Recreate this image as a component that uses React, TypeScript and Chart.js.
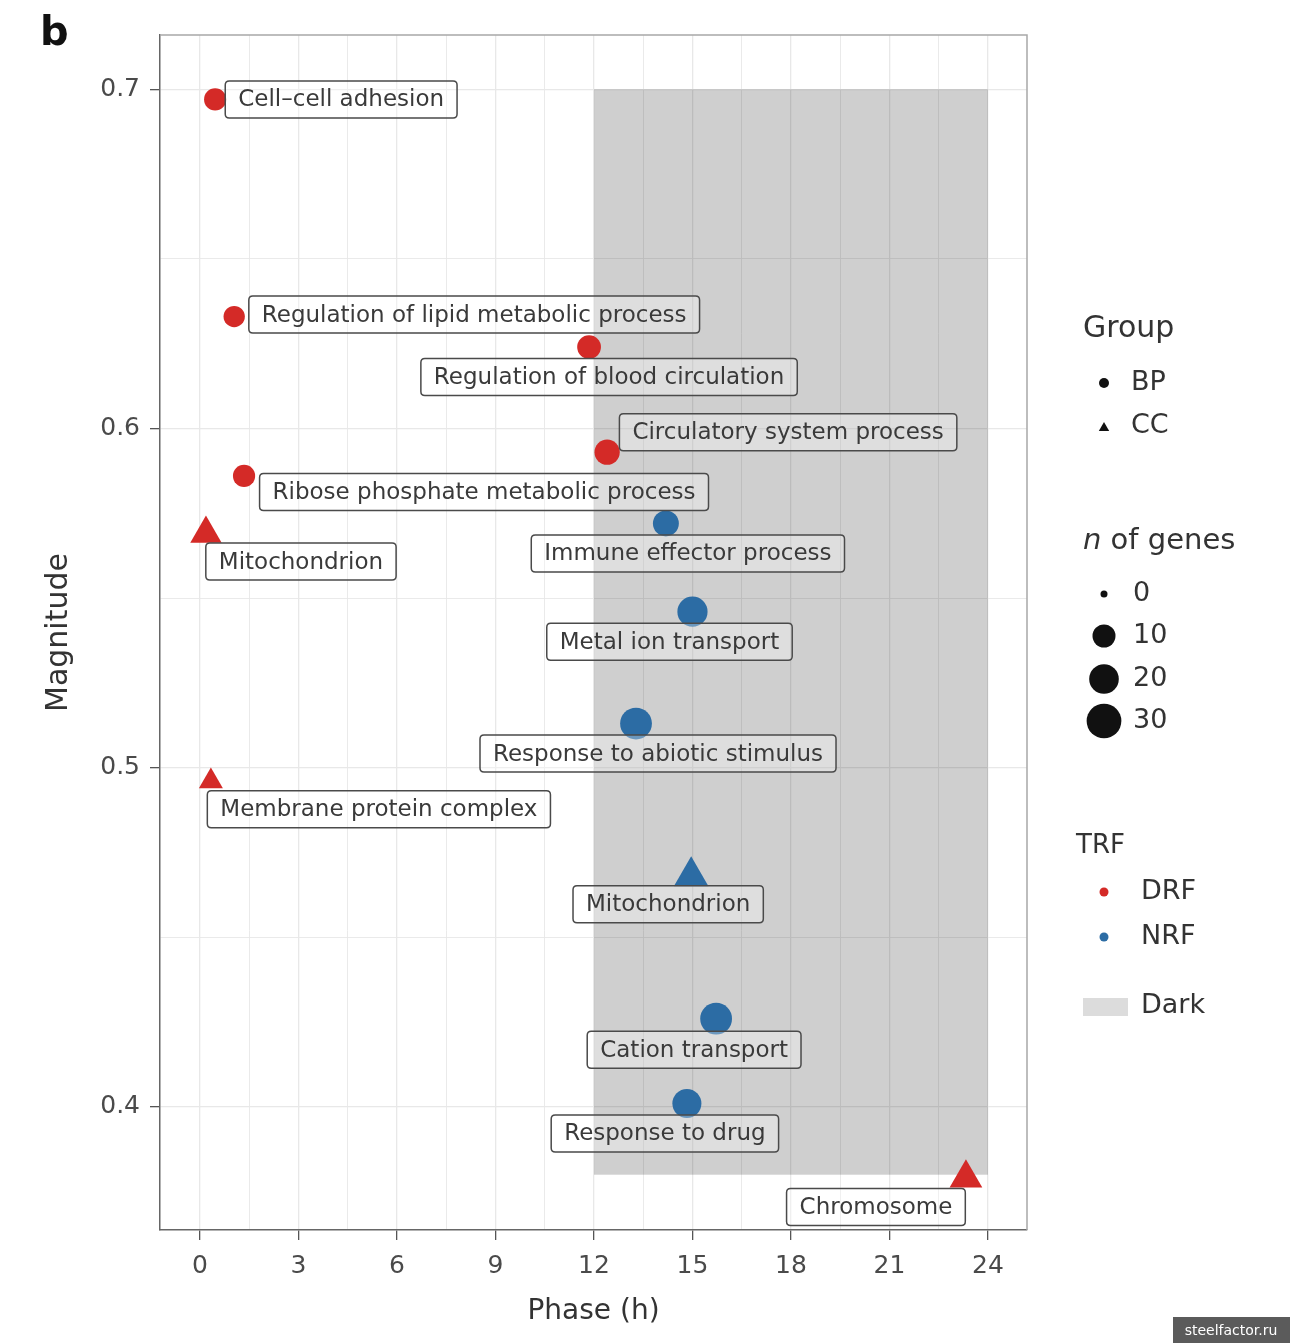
import React, { useEffect, useRef } from 'react';
import { Chart, registerables } from 'chart.js';

Chart.register(...registerables);

// ---------- data ----------
const terms = [
  'Cell–cell adhesion',
  'Regulation of lipid metabolic process',
  'Regulation of blood circulation',
  'Circulatory system process',
  'Ribose phosphate metabolic process',
  'Mitochondrion',
  'Membrane protein complex',
  'Chromosome',
  'Immune effector process',
  'Metal ion transport',
  'Response to abiotic stimulus',
  'Mitochondrion',
  'Cation transport',
  'Response to drug',
];
const phase = [0.46, 1.04, 11.85, 12.4, 1.34, 0.18, 0.33, 23.33, 14.19, 15.0, 13.28, 14.96, 15.72, 14.83];
const magnitude = [0.697, 0.633, 0.624, 0.593, 0.586, 0.569, 0.496, 0.379, 0.572, 0.546, 0.513, 0.468, 0.426, 0.401];
const nGenes = [9, 8, 11, 13, 9, 17, 8, 19, 14, 21, 24, 22, 24, 19];
const group = ['BP', 'BP', 'BP', 'BP', 'BP', 'CC', 'CC', 'CC', 'BP', 'BP', 'BP', 'CC', 'BP', 'BP'];
const trf = ['DRF', 'DRF', 'DRF', 'DRF', 'DRF', 'DRF', 'DRF', 'DRF', 'NRF', 'NRF', 'NRF', 'NRF', 'NRF', 'NRF'];

const xTicks = [0, 1.5, 3, 4.5, 6, 7.5, 9, 10.5, 12, 13.5, 15, 16.5, 18, 19.5, 21, 22.5, 24];
const yTicks = [0.4, 0.45, 0.5, 0.55, 0.6, 0.65, 0.7];
const darkPhase = [12, 24];
const darkMagnitude = [0.38, 0.7];
const sizeLegend = [0, 10, 20, 30];

// label box centre offsets (px) relative to each point
const labelDx = [126, 240, 20, 181, 240, 95, 168, -90, 22, -23, 22, -23, -22, -22];
const labelDy = [0, -2, 30, -20, 16, 28, 28, 29, 30, 30, 30, 28, 31, 30];

const COLORS: Record<string, string> = { DRF: '#d42a27', NRF: '#2c6ca4' };
const FONT = '"DejaVu Sans"';

const radiusFor = (n: number, g: string) => {
  const r = 3.5 + 2.53 * Math.sqrt(n);
  return g === 'CC' ? r * 1.3 : r;
};

const isMajorX = (v: number) => Math.abs(v % 3) < 1e-6;
const isMajorY = (v: number) => Math.abs(v * 10 - Math.round(v * 10)) < 1e-6;

function buildDatasets() {
  const combos = [
    ['DRF', 'BP'],
    ['DRF', 'CC'],
    ['NRF', 'BP'],
    ['NRF', 'CC'],
  ];
  return combos.map(([t, g]) => {
    const idx = terms.map((_, i) => i).filter((i) => trf[i] === t && group[i] === g);
    return {
      label: `${t}-${g}`,
      idx,
      data: idx.map((i) => ({ x: phase[i], y: magnitude[i] })),
      pointStyle: g === 'BP' ? 'circle' : 'triangle',
      pointRadius: idx.map((i) => radiusFor(nGenes[i], g)),
      pointHoverRadius: idx.map((i) => radiusFor(nGenes[i], g)),
      backgroundColor: COLORS[t],
      borderColor: COLORS[t],
      borderWidth: 0,
      showLine: false,
    } as any;
  });
}

function roundRect(ctx: CanvasRenderingContext2D, x: number, y: number, w: number, h: number, r: number) {
  ctx.beginPath();
  ctx.moveTo(x + r, y);
  ctx.lineTo(x + w - r, y);
  ctx.quadraticCurveTo(x + w, y, x + w, y + r);
  ctx.lineTo(x + w, y + h - r);
  ctx.quadraticCurveTo(x + w, y + h, x + w - r, y + h);
  ctx.lineTo(x + r, y + h);
  ctx.quadraticCurveTo(x, y + h, x, y + h - r);
  ctx.lineTo(x, y + r);
  ctx.quadraticCurveTo(x, y, x + r, y);
  ctx.closePath();
}

const overlayPlugin = {
  id: 'overlay',
  beforeDatasetsDraw(chart: any) {
    const { ctx, scales } = chart;
    const x0 = scales.x.getPixelForValue(darkPhase[0]);
    const x1 = scales.x.getPixelForValue(darkPhase[1]);
    const y0 = scales.y.getPixelForValue(darkMagnitude[1]);
    const y1 = scales.y.getPixelForValue(darkMagnitude[0]);
    ctx.save();
    ctx.fillStyle = 'rgba(0,0,0,0.19)';
    ctx.fillRect(x0, y0, x1 - x0, y1 - y0);
    ctx.restore();
  },
  afterDatasetsDraw(chart: any) {
    const { ctx, chartArea } = chart;
    ctx.save();
    ctx.font = `23px ${FONT}`;
    ctx.textAlign = 'center';
    ctx.textBaseline = 'middle';
    chart.data.datasets.forEach((ds: any, di: number) => {
      const meta = chart.getDatasetMeta(di);
      meta.data.forEach((el: any, j: number) => {
        const i = ds.idx[j];
        const cx = el.x + labelDx[i];
        const cy = el.y + labelDy[i];
        const tw = ctx.measureText(terms[i]).width;
        const w = tw + 26;
        const h = 37;
        roundRect(ctx, cx - w / 2, cy - h / 2, w, h, 4);
        ctx.fillStyle = 'rgba(255,255,255,0.3)';
        ctx.fill();
        ctx.strokeStyle = '#4a4a4a';
        ctx.lineWidth = 1.5;
        ctx.stroke();
        ctx.fillStyle = '#3a3a3a';
        ctx.fillText(terms[i], cx, cy + 1);
      });
    });
    // top & right panel border
    ctx.strokeStyle = '#a8a8a8';
    ctx.lineWidth = 1.5;
    ctx.beginPath();
    ctx.moveTo(chartArea.left, chartArea.top);
    ctx.lineTo(chartArea.right, chartArea.top);
    ctx.lineTo(chartArea.right, chartArea.bottom);
    ctx.stroke();
    ctx.restore();
  },
  afterDraw(chart: any) {
    const { ctx } = chart;
    ctx.save();
    // panel letter
    ctx.fillStyle = '#111';
    ctx.font = `bold 40px ${FONT}`;
    ctx.textBaseline = 'alphabetic';
    ctx.textAlign = 'left';
    ctx.fillText('b', 40, 45);

    const txt = '#333';
    ctx.textBaseline = 'middle';
    ctx.fillStyle = txt;
    ctx.font = `30px ${FONT}`;
    ctx.fillText('Group', 1083, 329);
    ctx.font = `27px ${FONT}`;
    ctx.fillText('BP', 1131, 383);
    ctx.fillText('CC', 1131, 426);
    ctx.fillStyle = '#111';
    ctx.beginPath();
    ctx.arc(1104, 383, 5, 0, Math.PI * 2);
    ctx.fill();
    ctx.beginPath();
    const tr = 6;
    ctx.moveTo(1104, 428 - tr);
    ctx.lineTo(1104 + tr * 0.866, 428 + tr / 2);
    ctx.lineTo(1104 - tr * 0.866, 428 + tr / 2);
    ctx.closePath();
    ctx.fill();

    // n of genes
    ctx.fillStyle = txt;
    ctx.font = `italic 29px ${FONT}`;
    ctx.fillText('n', 1083, 541);
    const nw = ctx.measureText('n').width;
    ctx.font = `29px ${FONT}`;
    ctx.fillText(' of genes', 1083 + nw, 541);
    const sizeY = [594, 636, 679, 721];
    sizeLegend.forEach((n, k) => {
      ctx.fillStyle = '#111';
      ctx.beginPath();
      ctx.arc(1104, sizeY[k], radiusFor(n, 'BP'), 0, Math.PI * 2);
      ctx.fill();
      ctx.fillStyle = txt;
      ctx.font = `27px ${FONT}`;
      ctx.fillText(String(n), 1133, sizeY[k]);
    });

    // TRF
    ctx.fillStyle = txt;
    ctx.font = `26px ${FONT}`;
    ctx.fillText('TRF', 1076, 846);
    ctx.font = `27px ${FONT}`;
    [['DRF', 892], ['NRF', 937]].forEach(([t, y]: any) => {
      ctx.fillStyle = COLORS[t];
      ctx.beginPath();
      ctx.arc(1104, y, 4.5, 0, Math.PI * 2);
      ctx.fill();
      ctx.fillStyle = txt;
      ctx.fillText(t, 1141, y);
    });
    ctx.fillStyle = '#dcdcdc';
    ctx.fillRect(1083, 998, 45, 18);
    ctx.fillStyle = txt;
    ctx.fillText('Dark', 1141, 1006);

    // watermark
    ctx.fillStyle = '#5b5b5b';
    ctx.fillRect(1173, 1317, 117, 26);
    ctx.fillStyle = '#fff';
    ctx.font = `14px ${FONT}`;
    ctx.textAlign = 'center';
    ctx.fillText('steelfactor.ru', 1231, 1331);
    ctx.restore();
  },
};

export default function App() {
  const ref = useRef<HTMLCanvasElement | null>(null);
  useEffect(() => {
    if (!ref.current) return;
    const chart = new Chart(ref.current, {
      type: 'scatter',
      data: { datasets: buildDatasets() },
      options: {
        animation: false,
        responsive: false,
        devicePixelRatio: 1,
        layout: { padding: { left: 0, right: 263, top: 35, bottom: 0 } },
        plugins: { legend: { display: false }, tooltip: { enabled: false } },
        scales: {
          x: {
            type: 'linear',
            min: -1.22,
            max: 25.19,
            afterBuildTicks: (s: any) => {
              s.ticks = xTicks.map((v) => ({ value: v }));
            },
            afterFit: (s: any) => {
              s.height = 113;
            },
            ticks: {
              autoSkip: false,
              maxRotation: 0,
              padding: 11,
              color: '#4a4a4a',
              font: { family: FONT, size: 25 },
              callback: (v: any) => (isMajorX(Number(v)) ? String(v) : ''),
            },
            grid: {
              color: '#e8e8e8',
              lineWidth: (c: any) => (isMajorX(c.tick?.value ?? 0) ? 1.3 : 0.9),
              tickLength: 10,
              tickColor: (c: any) => (isMajorX(c.tick?.value ?? 0) ? '#555' : 'rgba(0,0,0,0)'),
            },
            border: { display: true, color: '#666', width: 1.5 },
            title: {
              display: true,
              text: 'Phase (h)',
              color: '#333',
              font: { family: FONT, size: 28 },
              padding: { bottom: 14, top: 0 },
            },
          },
          y: {
            type: 'linear',
            min: 0.3637,
            max: 0.716,
            afterBuildTicks: (s: any) => {
              s.ticks = yTicks.map((v) => ({ value: v }));
            },
            afterFit: (s: any) => {
              s.width = 160;
            },
            ticks: {
              autoSkip: false,
              padding: 10,
              color: '#4a4a4a',
              font: { family: FONT, size: 25 },
              callback: (v: any) => (isMajorY(Number(v)) ? Number(v).toFixed(1) : ''),
            },
            grid: {
              color: '#e8e8e8',
              lineWidth: (c: any) => (isMajorY(c.tick?.value ?? 0) ? 1.3 : 0.9),
              tickLength: 10,
              tickColor: (c: any) => (isMajorY(c.tick?.value ?? 0) ? '#555' : 'rgba(0,0,0,0)'),
            },
            border: { display: true, color: '#666', width: 1.5 },
            title: {
              display: true,
              text: 'Magnitude',
              color: '#333',
              font: { family: FONT, size: 30 },
              padding: { top: 41, bottom: 0 },
            },
          },
        },
      },
      plugins: [overlayPlugin],
    } as any);
    return () => chart.destroy();
  }, []);
  return (
    <div style={{ position: 'absolute', left: 0, top: 0, width: 1290, height: 1343, background: '#fff' }}>
      <canvas ref={ref} width={1290} height={1343} style={{ width: 1290, height: 1343, display: 'block' }} />
    </div>
  );
}
